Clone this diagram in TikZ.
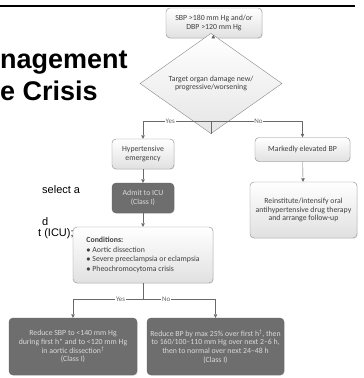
\documentclass[tikz,border=0pt]{standalone}
\usepackage{fontspec}
\setmainfont{Carlito}
\newfontfamily\slidefont{Liberation Sans}
\usetikzlibrary{shapes.geometric,arrows.meta,shadows}
\definecolor{boxline}{HTML}{8A8A8A}
\definecolor{boxdark}{HTML}{6E6E6E}
\definecolor{flowline}{HTML}{6A6A6A}
\tikzset{
    lightbox/.style={draw=boxline, rounded corners=4pt, top color=white, bottom color=black!12,
        text=black!75, font=\fontsize{7.8}{8.8}\selectfont, align=center, inner sep=1pt,
        drop shadow={opacity=0.2, shadow xshift=0.7pt, shadow yshift=-0.7pt}},
    darkbox/.style={draw=black!60, rounded corners=4pt, fill=boxdark,
        text=white!85!black, font=\fontsize{7.8}{8.8}\selectfont, align=center, inner sep=1pt,
        drop shadow={opacity=0.25, shadow xshift=0.7pt, shadow yshift=-0.7pt}},
    decision/.style={diamond, draw=boxline, top color=white, bottom color=black!10,
        text=black!75, font=\fontsize{7.8}{8.8}\selectfont, align=center, inner sep=0pt},
    flow/.style={draw=flowline, -{Triangle[length=3.5pt,width=3.5pt]}},
    link/.style={draw=flowline},
    answer/.style={fill=white, inner sep=0.8pt, text=black!60, font=\fontsize{7}{7.5}\selectfont}
}
\begin{document}
\begin{tikzpicture}[x=1pt,y=-1pt]
    \fill[white] (0,0) rectangle (364,378);
    \useasboundingbox (0,0) rectangle (364,378);
    % slide part
    \draw[line width=2pt] (0,5.5) -- (355,5.5);
    \node[anchor=base west, inner sep=0pt, font=\slidefont\bfseries\fontsize{27}{30}\selectfont] (title1) at (0,68) {nagement};
    \node[anchor=base west, inner sep=0pt, font=\slidefont\bfseries\fontsize{27}{30}\selectfont] (title2) at (0,100) {e Crisis};
    \node[anchor=base west, inner sep=0pt, font=\slidefont\fontsize{11}{12}\selectfont] (body1) at (42,193) {select a};
    \node[anchor=base west, inner sep=0pt, font=\slidefont\fontsize{11}{12}\selectfont] (body2) at (42,225) {d};
    \node[anchor=base west, inner sep=0pt, font=\slidefont\fontsize{11}{12}\selectfont] (body3) at (38,236) {t (ICU);};
    % flow chart
    \node[lightbox, minimum width=96pt, minimum height=30pt] (sbp) at (214,23) {SBP >180 mm Hg and/or\\DBP >120 mm Hg};
    \node[decision, minimum width=142pt, minimum height=57pt] (organ) at (211,83.5) {Target organ damage new/\\progressive/worsening};
    \node[lightbox, minimum width=62pt, minimum height=30pt] (hyper) at (143,154) {Hypertensive\\emergency};
    \node[darkbox, minimum width=62pt, minimum height=30pt] (admit) at (143,198) {Admit to ICU\\(Class I)};
    \node[lightbox, align=left, minimum width=140pt, minimum height=56pt, font=\fontsize{7.8}{9.6}\selectfont] (cond) at (143,255)
        {\textbf{Conditions:}\\$\bullet$ Aortic dissection\\$\bullet$ Severe preeclampsia or eclampsia\\$\bullet$ Pheochromocytoma crisis};
    \node[lightbox, minimum width=95pt, minimum height=24pt] (marked) at (302.5,149.5) {Markedly elevated BP};
    \node[lightbox, minimum width=107pt, minimum height=56pt] (reinst) at (303.5,210) {Reinstitute/intensify oral\\antihypertensive drug therapy\\and arrange follow-up};
    \node[darkbox, minimum width=128pt, minimum height=57pt] (lower1) at (73,346.5) {Reduce SBP to <140 mm Hg\\during first h* and to <120 mm Hg\\in aortic dissection\textsuperscript{†}\\(Class I)};
    \node[darkbox, minimum width=137pt, minimum height=57pt, inner xsep=0pt] (lower2) at (215.5,346.5) {Reduce BP by max 25\% over first h\textsuperscript{†}, then\\to 160/100--110 mm Hg over next 2--6 h,\\then to normal over next 24--48 h\\(Class I)};
    \coordinate (fork1) at (211,121);
    \coordinate (fork2) at (143,299);
    % connectors
    \draw[flow] (sbp) -- (organ);
    \draw[link] (organ.south) -- (fork1);
    \draw[flow] (fork1) -| node[answer, pos=0.3] {Yes} (hyper.north);
    \draw[flow] (fork1) -| node[answer, pos=0.26] {No} (marked.north);
    \draw[flow] (hyper) -- (admit);
    \draw[flow] (admit) -- (cond);
    \draw[flow] (marked) -- (reinst);
    \draw[link] (cond.south) -- (fork2);
    \draw[flow] (fork2) -| node[answer, pos=0.16] {Yes} (lower1.north);
    \draw[flow] (fork2) -| node[answer, pos=0.16] {No} (lower2.north);
\end{tikzpicture}
\end{document}
